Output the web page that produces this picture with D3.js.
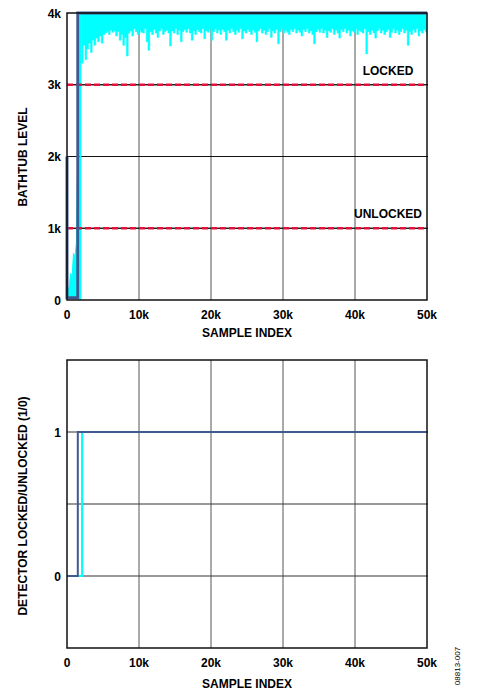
<!DOCTYPE html>
<html>
<head>
<meta charset="utf-8">
<script src="https://cdn.jsdelivr.net/npm/d3@7"></script>
<style>
  html, body { margin: 0; padding: 0; background: #fff; }
  svg { display: block; font-family: "Liberation Sans", Arial, sans-serif; }
</style>
</head>
<body>
<svg id="chart" width="501" height="691"></svg>
<script>
// ---------- DATA ----------
const xTicks = [0, 10000, 20000, 30000, 40000, 50000];
const xTickLabels = ["0", "10k", "20k", "30k", "40k", "50k"];
const topYTicks = [0, 1000, 2000, 3000, 4000];
const topYTickLabels = ["0", "1k", "2k", "3k", "4k"];
const thresholds = [1000, 3000];
const thresholdLabels = ["UNLOCKED", "LOCKED"];

// dark-blue trace (upper panel)
const blueX = [0, 0, 1500, 1500, 50000];
const blueY = [2000, 30, 30, 4000, 4000];

// cyan trace: early ramp (fill from floor up to these values)
const earlyX = [100, 300, 500, 700, 900, 1100, 1300, 1450];
const earlyY = [150, 180, 370, 300, 650, 600, 790, 1700];
const earlyFloor = 50;
// cyan jump
const jumpX = [1850, 1850];
const jumpY = [0, 4000];
// cyan noisy band: lower envelope (k), top is 4k; one value per 250 samples from 2000
const bandStart = 2000, bandStep = 250, bandTop = 4000;
const bandLow = [
 3.30,3.55,3.35,3.50,3.58,3.45,3.62,3.55,3.65,3.60,3.68,3.58,3.70,
 3.72,3.74,3.70,3.76,3.73,3.75,3.68,3.74,3.62,3.70,3.55,3.66,
 3.40,3.72,3.75,3.68,3.78,3.74,3.70,3.76,3.73,3.72,3.78,3.60,
 3.48,3.74,3.70,3.77,3.72,3.66,3.75,3.78,3.70,3.74,3.76,3.72,
 3.54,3.75,3.72,3.78,3.70,3.76,3.60,3.74,3.77,3.73,3.78,3.72,
 3.62,3.75,3.70,3.77,3.74,3.72,3.78,3.64,3.75,3.73,3.77,3.62,
 3.74,3.78,3.72,3.76,3.70,3.77,3.74,3.62,3.76,3.72,3.78,3.74,
 3.70,3.76,3.73,3.78,3.64,3.75,3.72,3.77,3.74,3.70,3.76,3.73,
 3.60,3.75,3.78,3.72,3.76,3.70,3.74,3.78,3.66,3.75,3.72,3.77,
 3.57,3.74,3.78,3.72,3.76,3.73,3.70,3.77,3.74,3.78,3.72,3.76,
 3.73,3.68,3.77,3.74,3.78,3.72,3.75,3.70,3.57,3.74,3.77,3.73,
 3.78,3.72,3.76,3.66,3.75,3.73,3.78,3.70,3.76,3.72,3.65,3.77,
 3.74,3.78,3.72,3.76,3.68,3.75,3.73,3.78,3.70,3.76,3.74,3.72,
 3.78,3.43,3.74,3.70,3.76,3.72,3.65,3.75,3.78,3.72,3.76,3.70,
 3.74,3.77,3.66,3.73,3.78,3.72,3.76,3.70,3.74,3.78,3.72,3.76,
 3.55,3.74,3.70,3.77,3.73,3.78,3.68,3.75,3.72,3.77,3.74,3.70
];

// lower panel
const botYTicks = [0, 1];
const botYTickLabels = ["0", "1"];
const botGrid = [0, 0.5, 1];
const detBlueX = [0, 1500, 1500, 50000];
const detBlueY = [0, 0, 1, 1];
const detCyanX = [0, 2100, 2100, 50000];
const detCyanY = [0, 0, 1, 1];

// ---------- STYLE ----------
const BLUE = "#3f5a8f", CYAN = "#00ffff", RED = "#e3103c";
const svg = d3.select("#chart");

const x = d3.scaleLinear().domain([0, 50000]).range([67, 427]);
const yTop = d3.scaleLinear().domain([0, 4000]).range([300, 13]);
const yBot = d3.scaleLinear().domain([-0.5, 1.5]).range([648, 360]);

function zip(a, b) { return a.map((v, i) => [v, b[i]]); }

// ===== TOP PANEL =====
const gT = svg.append("g");
gT.selectAll("line.vg").data(xTicks.slice(1, -1)).join("line")
  .attr("x1", d => x(d)).attr("x2", d => x(d))
  .attr("y1", yTop(0)).attr("y2", yTop(4000))
  .attr("stroke", "#555").attr("stroke-width", 1);
gT.selectAll("line.hg").data(topYTicks.slice(1, -1)).join("line")
  .attr("x1", x(0)).attr("x2", x(50000) + 1)
  .attr("y1", d => yTop(d)).attr("y2", d => yTop(d))
  .attr("stroke", "#111").attr("stroke-width", 1);

const early = zip(earlyX, earlyY);
gT.append("path")
  .datum(early)
  .attr("d", d3.area().x(d => x(d[0])).y0(yTop(earlyFloor)).y1(d => yTop(d[1])))
  .attr("fill", CYAN).attr("stroke", CYAN).attr("stroke-width", 1);
gT.append("path").datum(zip(jumpX, jumpY))
  .attr("d", d3.line().x(d => x(d[0])).y(d => yTop(d[1])))
  .attr("stroke", CYAN).attr("stroke-width", 2).attr("fill", "none");
const band = bandLow.map((v, i) => [bandStart + i * bandStep, v * 1000]);
gT.append("path").datum(band)
  .attr("d", d3.area().curve(d3.curveStepAfter)
    .x(d => x(d[0])).y0(yTop(bandTop)).y1(d => yTop(d[1])))
  .attr("fill", CYAN).attr("stroke", CYAN).attr("stroke-width", 0.5);

gT.selectAll("line.thb").data(thresholds).join("line")
  .attr("x1", x(0)).attr("x2", x(50000) + 1)
  .attr("y1", d => yTop(d)).attr("y2", d => yTop(d))
  .attr("stroke", "#111").attr("stroke-width", 1);
gT.selectAll("line.thr").data(thresholds).join("line")
  .attr("x1", x(0)).attr("x2", x(50000))
  .attr("y1", d => yTop(d)).attr("y2", d => yTop(d))
  .attr("stroke", RED).attr("stroke-width", 2.5).attr("stroke-dasharray", "6,3");

gT.append("path").datum(zip(blueX, blueY))
  .attr("d", d3.line().x(d => x(d[0])).y(d => yTop(d[1])))
  .attr("stroke", BLUE).attr("stroke-width", 3).attr("fill", "none")
  .attr("stroke-linejoin", "miter");

gT.append("rect").attr("x", x(0)).attr("y", yTop(4000))
  .attr("width", x(50000) - x(0)).attr("height", yTop(0) - yTop(4000))
  .attr("fill", "none").attr("stroke", "#111").attr("stroke-width", 1.5);

gT.selectAll("text.thl").data(thresholds).join("text")
  .attr("x", 388).attr("y", d => yTop(d) - 10)
  .attr("text-anchor", "middle").attr("font-size", 12).attr("font-weight", "bold")
  .text((d, i) => thresholdLabels[i]);

gT.selectAll("text.xt").data(xTicks).join("text")
  .attr("x", d => x(d)).attr("y", 319)
  .attr("text-anchor", "middle").attr("font-size", 12).attr("font-weight", "bold")
  .text((d, i) => xTickLabels[i]);
gT.selectAll("text.yt").data(topYTicks).join("text")
  .attr("x", 61).attr("y", d => yTop(d) + 4.5)
  .attr("text-anchor", "end").attr("font-size", 12).attr("font-weight", "bold")
  .text((d, i) => topYTickLabels[i]);
gT.append("text").attr("x", 247).attr("y", 337)
  .attr("text-anchor", "middle").attr("font-size", 12).attr("font-weight", "bold")
  .text("SAMPLE INDEX");
gT.append("text").attr("transform", "translate(27,157) rotate(-90)")
  .attr("text-anchor", "middle").attr("font-size", 12).attr("font-weight", "bold")
  .text("BATHTUB LEVEL");

// ===== BOTTOM PANEL =====
const gB = svg.append("g");
gB.selectAll("line.vg").data(xTicks.slice(1, -1)).join("line")
  .attr("x1", d => x(d)).attr("x2", d => x(d))
  .attr("y1", yBot(-0.5)).attr("y2", yBot(1.5))
  .attr("stroke", "#555").attr("stroke-width", 1);
gB.selectAll("line.hg").data(botGrid).join("line")
  .attr("x1", x(0)).attr("x2", x(50000) + 1)
  .attr("y1", d => yBot(d)).attr("y2", d => yBot(d))
  .attr("stroke", "#333").attr("stroke-width", 1);

gB.append("path").datum(zip(detCyanX, detCyanY))
  .attr("d", d3.line().x(d => x(d[0])).y(d => yBot(d[1])))
  .attr("stroke", CYAN).attr("stroke-width", 2.2).attr("fill", "none");
gB.append("path").datum(zip(detBlueX, detBlueY))
  .attr("d", d3.line().x(d => x(d[0])).y(d => yBot(d[1])))
  .attr("stroke", BLUE).attr("stroke-width", 2).attr("fill", "none");

gB.append("rect").attr("x", x(0)).attr("y", yBot(1.5))
  .attr("width", x(50000) - x(0)).attr("height", yBot(-0.5) - yBot(1.5))
  .attr("fill", "none").attr("stroke", "#111").attr("stroke-width", 1.5);

gB.selectAll("text.xt").data(xTicks).join("text")
  .attr("x", d => x(d)).attr("y", 667)
  .attr("text-anchor", "middle").attr("font-size", 12).attr("font-weight", "bold")
  .text((d, i) => xTickLabels[i]);
gB.selectAll("text.yt").data(botYTicks).join("text")
  .attr("x", 61).attr("y", d => yBot(d) + 4.5)
  .attr("text-anchor", "end").attr("font-size", 12).attr("font-weight", "bold")
  .text((d, i) => botYTickLabels[i]);
gB.append("text").attr("x", 247).attr("y", 688)
  .attr("text-anchor", "middle").attr("font-size", 12).attr("font-weight", "bold")
  .text("SAMPLE INDEX");
gB.append("text").attr("transform", "translate(27,506) rotate(-90)")
  .attr("text-anchor", "middle").attr("font-size", 12).attr("font-weight", "bold")
  .text("DETECTOR LOCKED/UNLOCKED (1/0)");

svg.append("text").attr("transform", "translate(460,666) rotate(-90)")
  .attr("text-anchor", "middle").attr("font-size", 8)
  .text("08813-007");
</script>
</body>
</html>
